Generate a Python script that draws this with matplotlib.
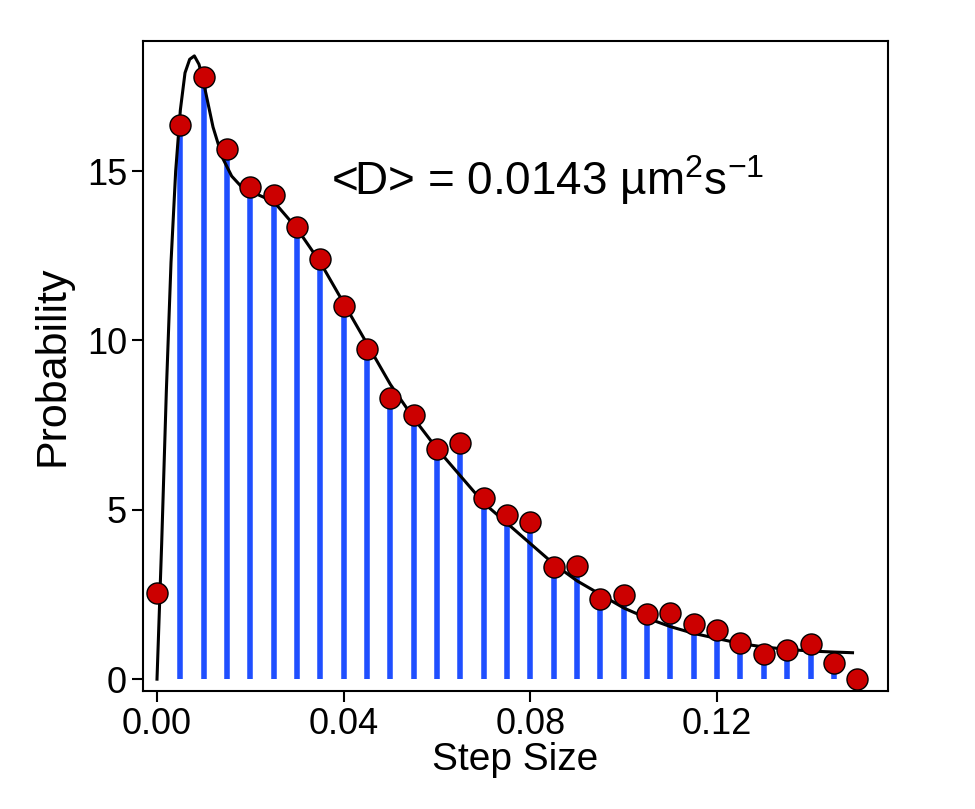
import matplotlib
matplotlib.use("Agg")
import matplotlib.pyplot as plt
import numpy as np

plt.rcParams['font.family'] = ['Liberation Sans', 'DejaVu Sans']

step = [0.000,0.005,0.010,0.015,0.020,0.025,0.030,0.035,0.040,0.045,0.050,0.055,0.060,0.065,0.070,
        0.075,0.080,0.085,0.090,0.095,0.100,0.105,0.110,0.115,0.120,0.125,0.130,0.135,0.140,0.145,0.150]
prob = [2.54,16.36,17.77,15.65,14.53,14.29,13.35,12.40,11.01,9.74,8.30,7.79,6.79,6.97,5.34,
        4.84,4.64,3.31,3.34,2.36,2.48,1.92,1.95,1.62,1.45,1.06,0.74,0.86,1.03,0.47,0.0]
fit_x = [0.0,0.001,0.002,0.003,0.004,0.005,0.006,0.007,0.008,0.009,0.010,0.012,0.014,0.016,0.018,0.020,
         0.025,0.030,0.035,0.040,0.045,0.050,0.055,0.060,0.065,0.070,0.075,0.080,0.085,0.090,0.095,
         0.100,0.105,0.110,0.115,0.120,0.125,0.130,0.135,0.140,0.145,0.149]
fit_y = [0.0,4.0,8.5,12.3,15.0,16.8,17.9,18.3,18.4,18.15,17.6,16.3,15.4,14.85,14.55,14.4,
         14.1,13.3,12.3,11.1,9.9,8.7,7.7,6.8,6.0,5.2,4.6,4.0,3.4,2.9,2.5,
         2.1,1.8,1.55,1.35,1.2,1.05,0.95,0.88,0.83,0.8,0.78]

fig = plt.figure(figsize=(9.75, 8.09), dpi=100)
ax = fig.add_axes([143/975, 1-691/809, (888-143)/975, (691-41)/809])
ax.vlines(step[1:-1], 0, prob[1:-1], color='#1f4fff', linewidth=4, zorder=1)
ax.plot(fit_x, fit_y, color='black', linewidth=2.2, zorder=2)
ax.scatter(step, prob, s=230, facecolor='#cc0000', edgecolor='black', linewidth=1, zorder=3)
ax.set_xlim(-0.003, 0.1566)
ax.set_ylim(-0.35, 18.84)
ax.set_xticks([0.00,0.04,0.08,0.12])
ax.set_xticklabels(['0.00','0.04','0.08','0.12'])
ax.set_yticks([0,5,10,15])
ax.tick_params(direction='out', labelsize=26, length=8, width=1.5, top=False, right=False)
for s in ax.spines.values():
    s.set_linewidth(1.5)
ax.set_xlabel('Step Size', fontsize=28, labelpad=0)
ax.set_ylabel('Probability', fontsize=31, labelpad=10)
ax.text(0.0373, 14.3, r'<D> = 0.0143 µm$^{\mathregular{2}}$s$^{\mathregular{-1}}$', fontsize=33)
fig.savefig('out.png', dpi=100)
